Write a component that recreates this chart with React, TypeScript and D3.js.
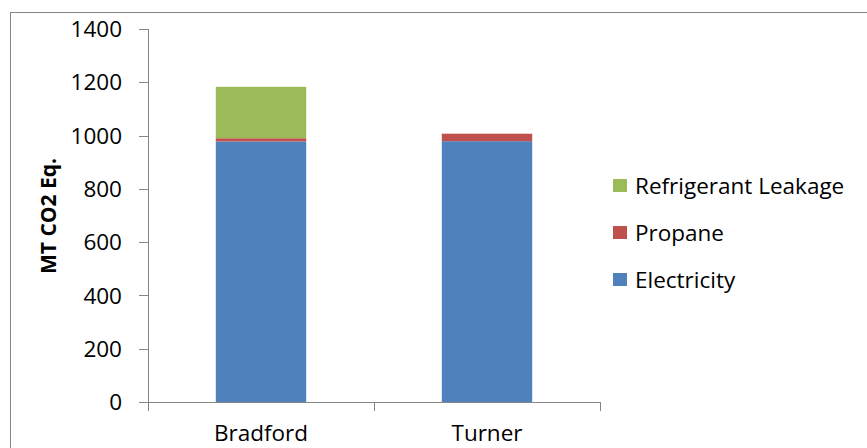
import React from "react";
import * as d3 from "d3";

const categories = ["Bradford", "Turner"];
const seriesNames = ["Electricity", "Propane", "Refrigerant Leakage"];
const electricity = [978, 979];
const propane = [12, 28];
const refrigerantLeakage = [193, 0];
const yTicks = [0, 200, 400, 600, 800, 1000, 1200, 1400];
const colors = ["#4F81BD", "#C0504D", "#9BBB59"];

const W = 867;
const H = 448;
const FONT = "'Open Sans', 'Noto Sans', sans-serif";
const FS = 22.5;

export default function App() {
  const rows = categories.map((c, i) => ({
    category: c,
    Electricity: electricity[i],
    Propane: propane[i],
    "Refrigerant Leakage": refrigerantLeakage[i],
  }));
  const stacked = d3.stack<any>().keys(seriesNames)(rows);

  const x = d3
    .scaleBand()
    .domain(categories)
    .range([148, 600])
    .paddingInner(0.6)
    .paddingOuter(0.3);
  const y = d3.scaleLinear().domain([0, 1400]).range([402, 29]);
  const band = d3.scaleBand().domain(categories).range([148, 600]);

  const legendOrder = [...seriesNames].reverse();

  return (
    <svg
      width={W}
      height={H}
      style={{ position: "absolute", left: 0, top: 0, background: "#fff" }}
      fontFamily={FONT}
    >
      <rect x={10.5} y={12.5} width={W} height={H} fill="#fff" stroke="#868686" />

      {stacked.map((s, si) =>
        s.map((d, i) => (
          <rect
            key={`${si}-${i}`}
            x={x(categories[i])}
            width={x.bandwidth()}
            y={y(d[1])}
            height={Math.max(0, y(d[0]) - y(d[1]))}
            fill={colors[si]}
          />
        ))
      )}

      {/* y axis */}
      <line x1={148.5} x2={148.5} y1={y(1400)} y2={y(0)} stroke="#868686" />
      {yTicks.map((t) => (
        <g key={t}>
          <line x1={139} x2={148} y1={Math.round(y(t)) + 0.5} y2={Math.round(y(t)) + 0.5} stroke="#868686" />
          <text x={122} y={y(t)} dy="0.36em" textAnchor="end" fontSize={FS} fill="#000">
            {t}
          </text>
        </g>
      ))}

      {/* x axis */}
      <line x1={148} x2={600} y1={402.5} y2={402.5} stroke="#868686" />
      {[...categories.map((c) => band(c)!), 600].map((v, i) => (
        <line key={i} x1={Math.round(v) + 0.5} x2={Math.round(v) + 0.5} y1={402} y2={411} stroke="#868686" />
      ))}
      {categories.map((c) => (
        <text key={c} x={x(c)! + x.bandwidth() / 2} y={441} textAnchor="middle" fontSize={FS} fill="#000">
          {c}
        </text>
      ))}

      <text
        transform={`translate(56,216) rotate(-90)`}
        textAnchor="middle"
        fontSize={21}
        fontWeight="bold"
        fill="#000"
      >
        MT CO2 Eq.
      </text>

      {legendOrder.map((name, i) => {
        const cy = 186 + i * 47;
        const ci = seriesNames.indexOf(name);
        return (
          <g key={name}>
            <rect x={613} y={cy - 7} width={14} height={13} fill={colors[ci]} />
            <text x={635} y={cy} dy="0.36em" fontSize={FS} fill="#000">
              {name}
            </text>
          </g>
        );
      })}
    </svg>
  );
}
